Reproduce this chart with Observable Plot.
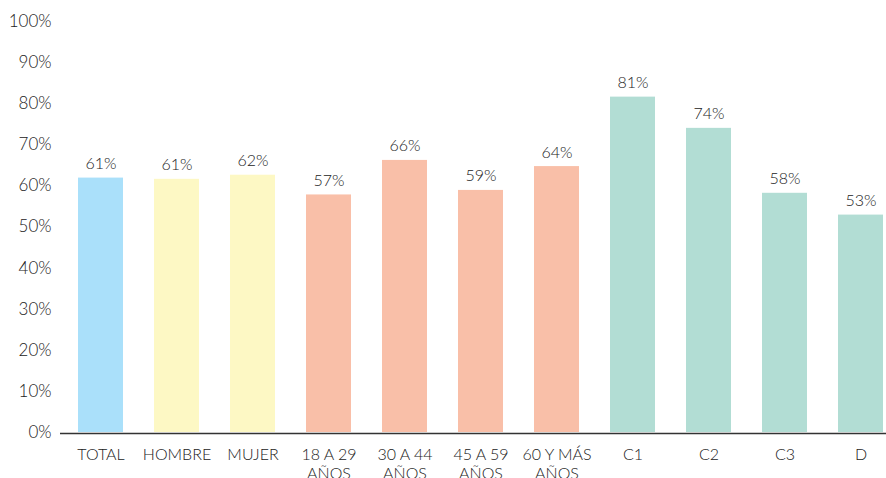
<!DOCTYPE html>
<html>
<head>
<meta charset="utf-8">
<script src="https://cdn.jsdelivr.net/npm/d3@7"></script>
<script src="https://cdn.jsdelivr.net/npm/@observablehq/plot@0.6"></script>
<style>
  body { margin: 0; background: #fff; }
  #chart svg { display: block; }
  #chart svg text { font-weight: 300; }
</style>
</head>
<body>
<div id="chart"></div>
<script>
const categories = ["TOTAL", "HOMBRE", "MUJER", "18 A 29\nAÑOS", "30 A 44\nAÑOS", "45 A 59\nAÑOS", "60 Y MÁS\nAÑOS", "C1", "C2", "C3", "D"];
const values = [61.9, 61.6, 62.6, 57.8, 66.2, 58.9, 64.7, 81.6, 74.0, 58.2, 52.9];
const labels = ["61%", "61%", "62%", "57%", "66%", "59%", "64%", "81%", "74%", "58%", "53%"];
const groups = ["total", "sexo", "sexo", "edad", "edad", "edad", "edad", "gse", "gse", "gse", "gse"];
const groupNames = ["total", "sexo", "edad", "gse"];
const groupColors = ["#aae0fa", "#fdf8c4", "#f9bfa8", "#b2ddd4"];
const yTicks = [0, 10, 20, 30, 40, 50, 60, 70, 80, 90, 100];

const data = categories.map((c, i) => ({cat: c, value: values[i], group: groups[i], label: labels[i]}));

const chart = Plot.plot({
  width: 886,
  height: 478,
  marginLeft: 60,
  marginRight: -14,
  marginTop: 21,
  marginBottom: 46,
  style: {fontFamily: "Lato, 'Open Sans', sans-serif", color: "#222", background: "#fff"},
  x: {domain: categories, paddingInner: 0.41, paddingOuter: 0.21, label: null},
  y: {domain: [0, 100], label: null},
  color: {domain: groupNames, range: groupColors},
  marks: [
    Plot.barY(data, {x: "cat", y: "value", fill: "group"}),
    Plot.ruleY([0], {stroke: "#333", strokeWidth: 1.5, dy: 1}),
    Plot.text(data, {x: "cat", y: "value", text: "label", lineAnchor: "bottom", dy: -9, fontSize: 16, fill: "#222"}),
    Plot.axisY({ticks: yTicks, tickFormat: d => d + "%", tickSize: 0, tickPadding: 9, fontSize: 17, label: null}),
    Plot.axisX({tickSize: 0, tickPadding: 14, fontSize: 16, label: null, lineHeight: 1.18})
  ]
});
document.getElementById("chart").appendChild(chart);
</script>
</body>
</html>
